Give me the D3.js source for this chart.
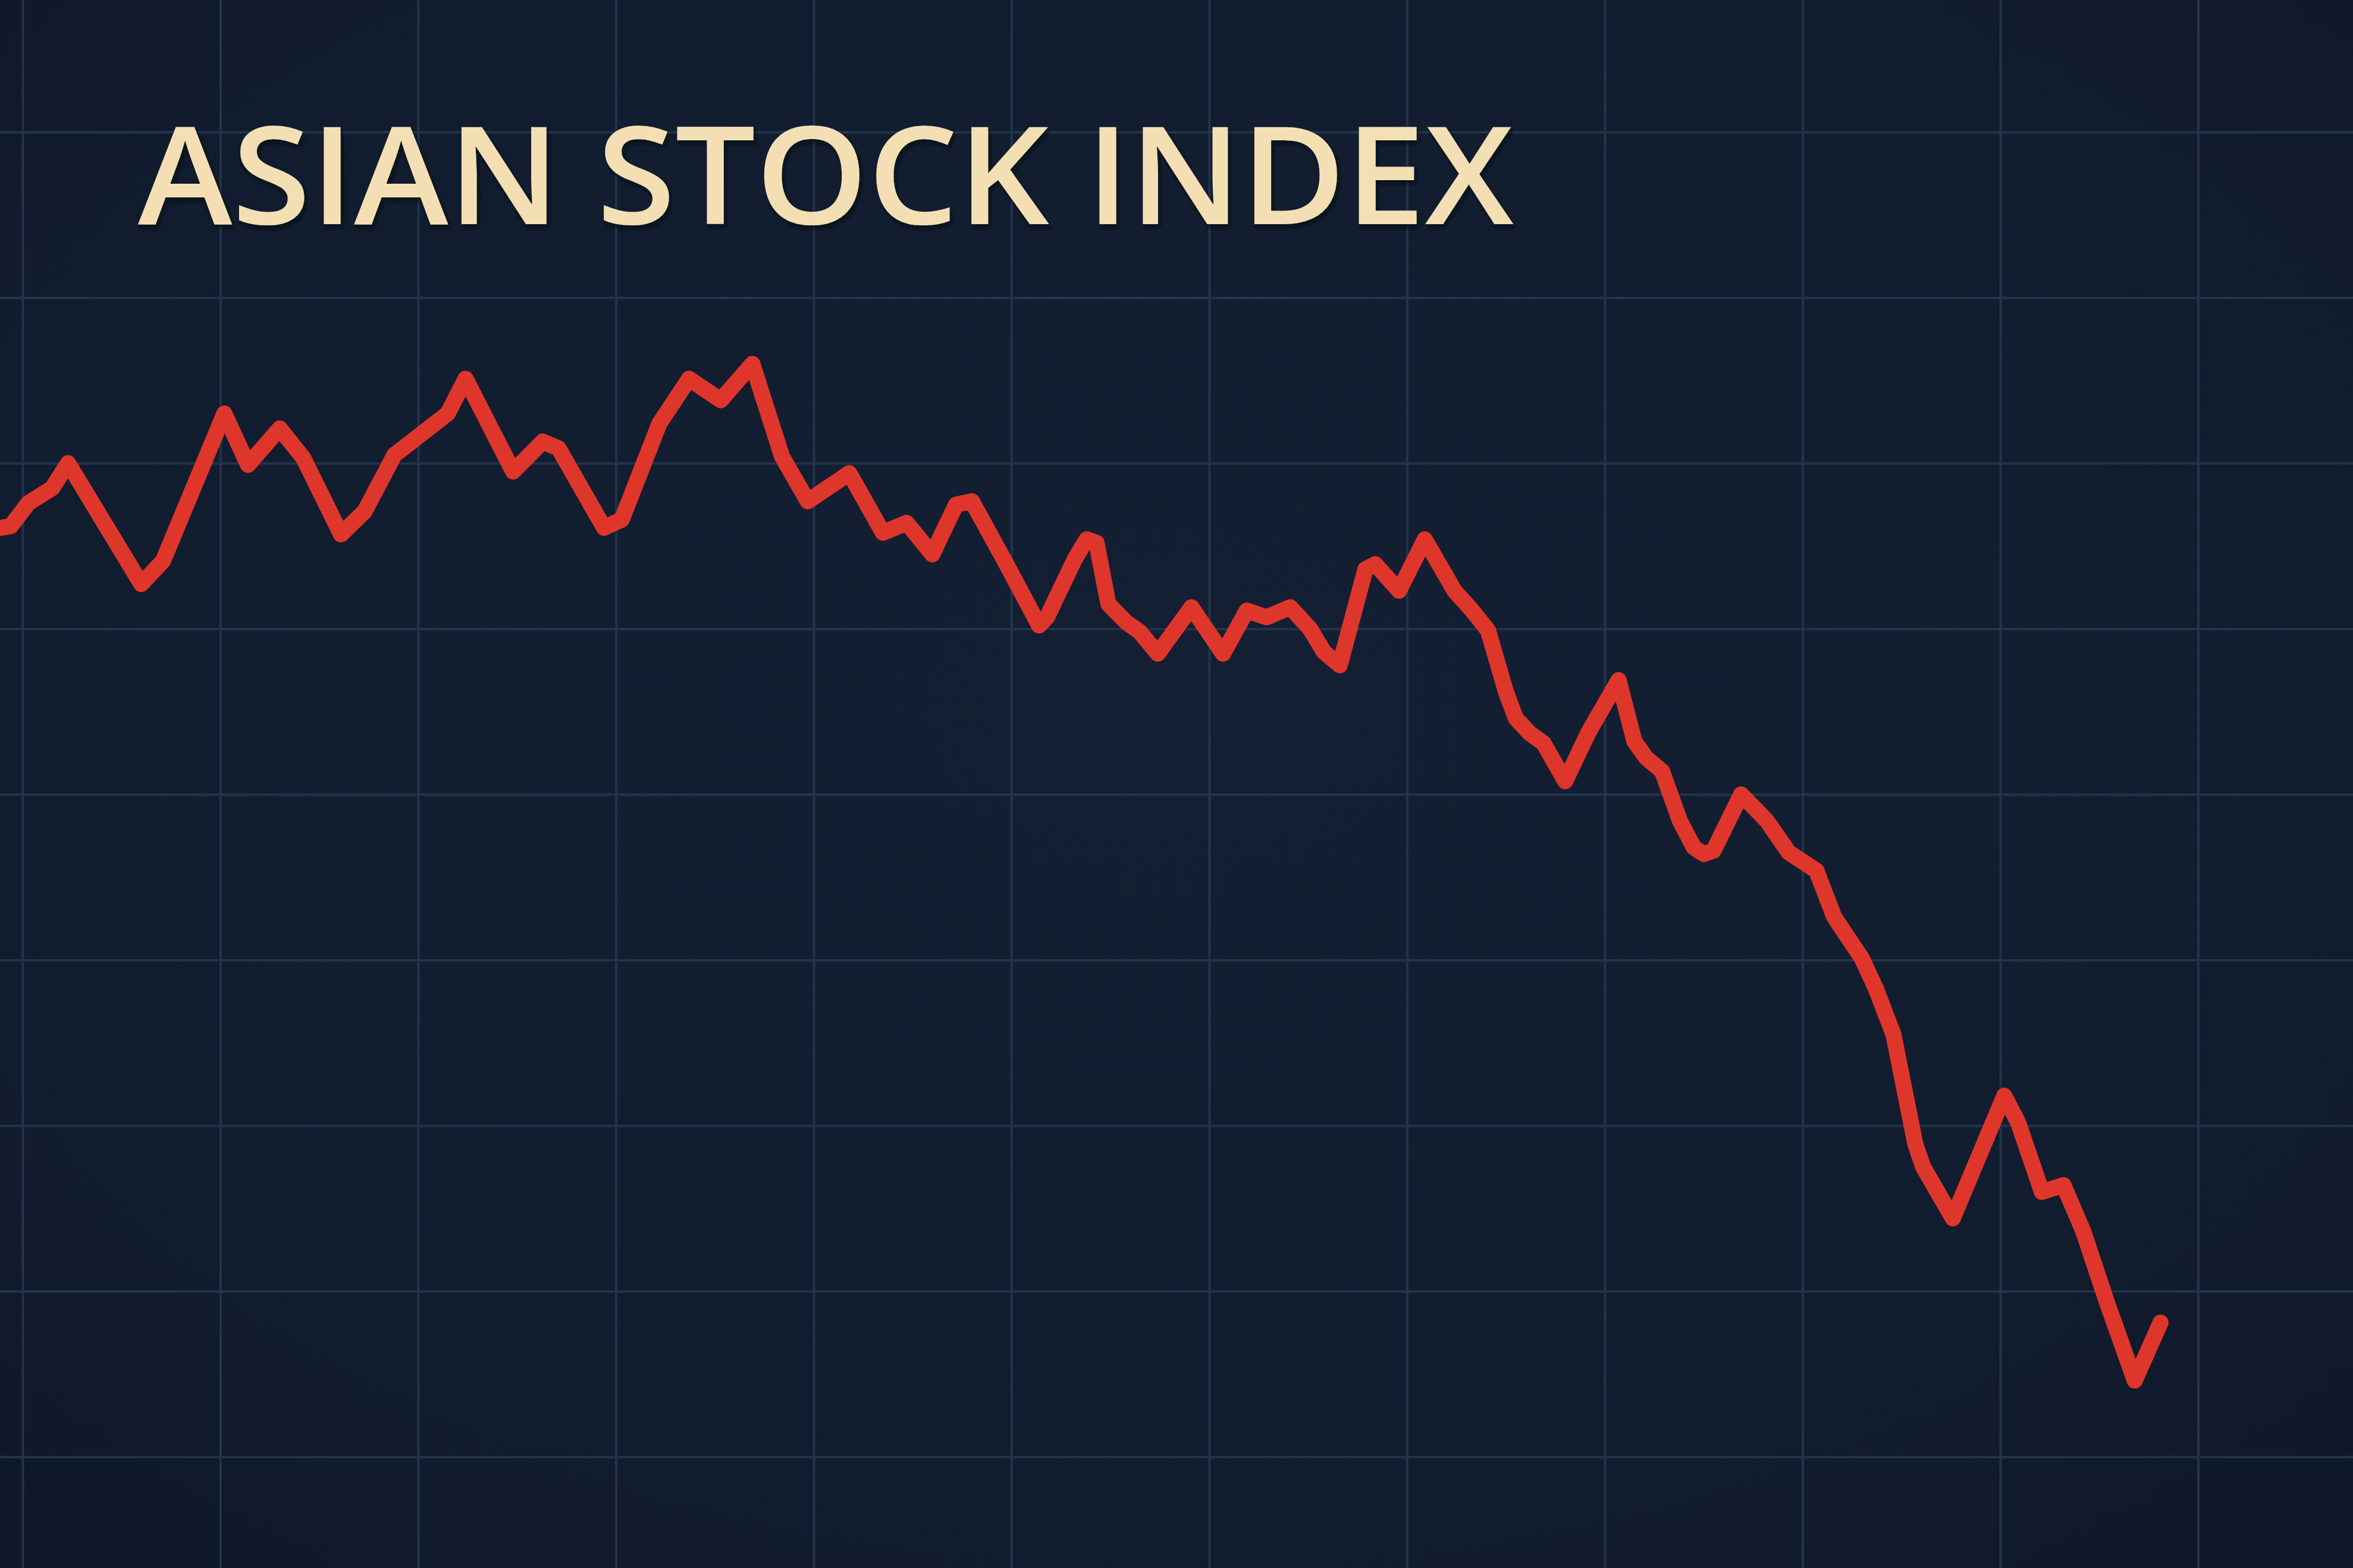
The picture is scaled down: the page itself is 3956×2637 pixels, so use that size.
<!DOCTYPE html>
<html>
<head>
<meta charset="utf-8">
<script src="https://cdn.jsdelivr.net/npm/d3@7"></script>
<style>
  html, body { margin: 0; padding: 0; background: #121c2f; overflow: hidden; }
  .grid line { stroke: #21344b; stroke-width: 4; }
  .grid .domain { display: none; }
  .grid text { display: none; }
</style>
</head>
<body>
<div id="vis"></div>
<script>
// chart values (x = trading day, y = index level)
var title = "ASIAN STOCK INDEX";

var days = [-1.1, -0.6, 0.3, 1.5, 2.3, 6.0, 7.1, 10.2, 11.4, 13.0,
    14.2, 16.1, 17.3, 18.8, 21.5, 22.4, 24.8, 26.3, 27.1, 29.4,
    30.3, 32.2, 33.7, 35.3, 36.9, 38.4, 39.7, 41.8, 43.5, 44.7,
    46.0, 47.2, 48.0, 49.7, 51.4, 51.8, 53.2, 53.8, 54.3, 54.9,
    55.8, 56.5, 57.4, 59.1, 60.7, 61.9, 62.9, 64.1, 65.1, 65.8,
    66.6, 67.9, 68.4, 69.6, 70.9, 72.4, 73.3, 74.1, 75.0, 75.5,
    76.2, 76.9, 78.0, 79.2, 80.7, 81.5, 82.1, 82.9, 83.8, 84.5,
    85.0, 85.5, 86.9, 88.2, 89.3, 90.7, 91.6, 93.0, 93.7, 94.6,
    95.7, 96.1, 97.6, 100.2, 100.9, 102.1, 103.2, 104.2, 105.4, 106.8,
    108.1];

var values = [2561, 2562, 2576, 2585, 2600, 2527, 2541, 2630, 2599, 2621,
    2603, 2557, 2571, 2605, 2630, 2651, 2595, 2613, 2609, 2561,
    2566, 2624, 2651, 2638, 2660, 2604, 2577, 2594, 2558, 2564,
    2545, 2575, 2577, 2540, 2502, 2507, 2542, 2554, 2552, 2515,
    2504, 2498, 2485, 2513, 2485, 2511, 2507, 2513, 2500, 2486,
    2478, 2536, 2539, 2523, 2554, 2523, 2511, 2499, 2462, 2446,
    2437, 2431, 2408, 2438, 2469, 2432, 2422, 2414, 2384, 2368,
    2364, 2366, 2400, 2384, 2365, 2354, 2326, 2301, 2283, 2255,
    2189, 2175, 2144, 2218, 2202, 2160, 2164, 2136, 2093, 2046,
    2081];

var gridDays = d3.range(0, 111, 10);
var gridLevels = d3.range(2000, 2801, 100);

var width = 3956,
    height = 2637;

var svg = d3.select("#vis")
    .append("svg")
    .attr("width", width)
    .attr("height", height);

var defs = svg.append("defs");

var bg = defs.append("radialGradient")
    .attr("id", "bg")
    .attr("cx", "50%").attr("cy", "45%").attr("r", "75%");
bg.append("stop").attr("offset", "0%").attr("stop-color", "#151f33");
bg.append("stop").attr("offset", "70%").attr("stop-color", "#121c2f");
bg.append("stop").attr("offset", "100%").attr("stop-color", "#0e1727");

var shadow = defs.append("filter")
    .attr("id", "shadow")
    .attr("x", "-5%").attr("y", "-20%").attr("width", "110%").attr("height", "140%");
shadow.append("feDropShadow")
    .attr("dx", 3).attr("dy", 6)
    .attr("stdDeviation", 3)
    .attr("flood-color", "#05080f")
    .attr("flood-opacity", 0.8);

svg.append("rect")
    .attr("width", width)
    .attr("height", height)
    .attr("fill", "url(#bg)");

var x = d3.scaleLinear().domain([0, 110]).range([38, 3695.5]);
var y = d3.scaleLinear().domain([2000, 2800]).range([2450, 222]);

// grid from the axes, no labels
svg.append("g")
    .attr("class", "grid")
    .attr("transform", "translate(0," + height + ")")
    .call(d3.axisBottom(x).tickValues(gridDays).tickSize(-height).tickFormat(""));

svg.append("g")
    .attr("class", "grid")
    .call(d3.axisLeft(y).tickValues(gridLevels).tickSize(-width).tickFormat(""));

var data = days.map(function (d, i) { return { day: d, value: values[i] }; });

svg.append("path")
    .datum(data)
    .attr("d", d3.line()
        .x(d => x(d.day))
        .y(d => y(d.value)))
    .attr("fill", "none")
    .attr("stroke", "#df362c")
    .attr("stroke-width", 27)
    .attr("stroke-linejoin", "round")
    .attr("stroke-linecap", "round");

svg.append("text")
    .attr("x", 232)
    .attr("y", 377)
    .attr("textLength", 2313)
    .attr("lengthAdjust", "spacingAndGlyphs")
    .attr("font-family", "'Open Sans', 'Noto Sans', sans-serif")
    .attr("font-weight", 650)
    .attr("font-size", 228)
    .attr("fill", "#f4dfb5")
    .attr("filter", "url(#shadow)")
    .text(title);
</script>
</body>
</html>
